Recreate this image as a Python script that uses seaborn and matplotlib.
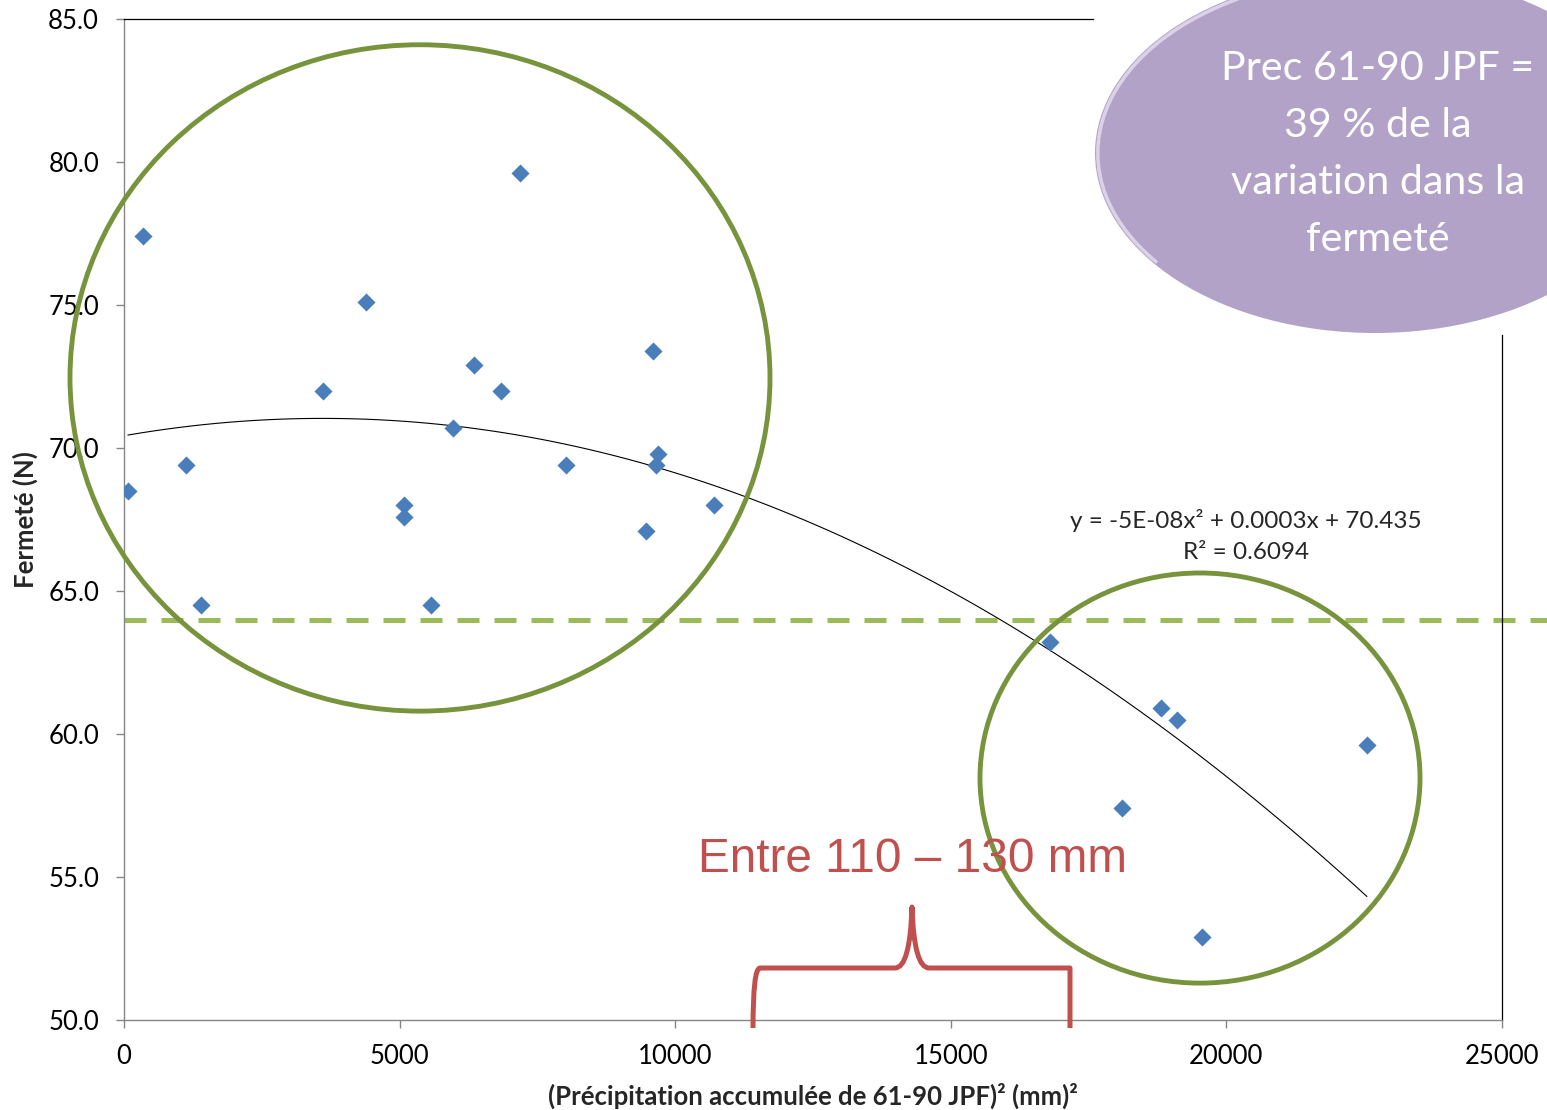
import numpy as np
import pandas as pd
import seaborn as sns
from matplotlib import pyplot as plt
from matplotlib.patches import Ellipse, Arc, PathPatch
from matplotlib.path import Path

# Data
precip_sq = [70, 345, 1125, 1397, 3610, 4390, 5080, 5080, 5570, 5969,
             6350, 6840, 7184, 8019, 9470, 9597, 9688, 9652, 10704,
             16800, 18106, 18813, 19104, 19557, 22550]
fermete = [68.5, 77.4, 69.4, 64.5, 72.0, 75.1, 68.0, 67.6, 64.5, 70.7,
           72.9, 72.0, 79.6, 69.4, 67.1, 73.4, 69.8, 69.4, 68.0,
           63.2, 57.4, 60.9, 60.5, 52.9, 59.6]
seuil = 64.0
x_ticks = [0, 5000, 10000, 15000, 20000, 25000]
y_ticks = [50, 55, 60, 65, 70, 75, 80, 85]

df = pd.DataFrame({"x": precip_sq, "y": fermete})

W, H = 1547, 1110
sns.set_theme(style="white")
plt.rcParams["font.family"] = ["Lato", "DejaVu Sans"]

fig = plt.figure(figsize=(W / 100, H / 100), dpi=100)
ax = fig.add_axes([124 / W, 1 - 1020 / H, (1502 - 124) / W, (1020 - 19) / H])


def fx(px):
    return px / W


def fy(py):
    return 1 - py / H


# threshold line (runs past the right edge of the plot)
ax.plot([0, 26000], [seuil, seuil], color="#9BBB59", lw=3.6,
        dashes=(4.4, 3.0), clip_on=False, zorder=2)

# quadratic trend line
sns.regplot(data=df, x="x", y="y", order=2, ci=None, scatter=False, ax=ax,
            line_kws=dict(color="black", lw=0.8, zorder=3))

sns.scatterplot(data=df, x="x", y="y", marker="D", s=85, color="#4A7EBB",
                linewidth=0, ax=ax, zorder=4)

ax.set_xlim(0, 25000)
ax.set_ylim(50, 85)
ax.set_xticks(x_ticks)
ax.set_yticks(y_ticks)
ax.set_yticklabels([f"{v:.1f}" for v in y_ticks])
ax.tick_params(axis="both", direction="out", length=6, width=1,
               color="#868686", labelsize=18.5, labelcolor="black", pad=11)
ax.tick_params(axis="y", left=True, pad=12)
ax.tick_params(axis="x", bottom=True)

for side in ["left", "bottom"]:
    ax.spines[side].set_color("#868686")
    ax.spines[side].set_linewidth(1)
for side in ["top", "right"]:
    ax.spines[side].set_color("black")
    ax.spines[side].set_linewidth(0.9)
ax.spines["top"].set_bounds(0, 17580)
ax.spines["right"].set_bounds(50, 73.95)

ax.set_xlabel("(Précipitation accumulée de 61-90 JPF)² (mm)²",
              fontsize=18.5, fontweight="bold", labelpad=10)
ax.set_ylabel("Fermeté (N)", fontsize=18.5, fontweight="bold", labelpad=7)

# green circles grouping the points
ax.add_patch(Ellipse((5370, 72.45), 12700, 23.3, fill=False,
                     edgecolor="#77933C", lw=3.5, clip_on=False, zorder=5))
ax.add_patch(Ellipse((19521, 58.46), 7983, 14.34, fill=False,
                     edgecolor="#77933C", lw=3.5, clip_on=False, zorder=5))

# equation of the fit
ax.text(fx(1246), fy(536), "y = -5E-08x² + 0.0003x + 70.435\nR² = 0.6094",
        transform=fig.transFigure, ha="center", va="center",
        fontsize=17.5, linespacing=1.55, zorder=6)

# purple bubble with a soft highlight on its left rim
bubble_c = (fx(1375), fy(153))
bubble_w, bubble_h = 2 * 280 / W, 2 * 180 / H
fig.patches.append(Ellipse(bubble_c, bubble_w, bubble_h,
                           transform=fig.transFigure, facecolor="#B3A2C7",
                           edgecolor="none", zorder=10))
fig.patches.append(Arc(bubble_c, bubble_w * 0.99, bubble_h * 0.985,
                       theta1=110, theta2=215, transform=fig.transFigure,
                       edgecolor="#E6DFF0", lw=2.5, alpha=0.8, zorder=10))
fig.text(fx(1378), fy(154),
         "Prec 61-90 JPF =\n39 % de la\nvariation dans la\nfermeté",
         ha="center", va="center", color="white", fontsize=29.7,
         linespacing=1.66, zorder=11)

# red label and brace
fig.text(fx(913), fy(872), "Entre 110 – 130 mm", ha="center",
         va="baseline", color="#C0504D", fontsize=34.4,
         family=["Liberation Sans", "DejaVu Sans"], zorder=11)

verts = [(753, 1028), (753, 968), (760, 968), (770, 968),
         (895, 968), (910, 968), (912, 907),
         (914, 968), (929, 968), (1055, 968),
         (1064, 968), (1070, 968), (1070, 1028)]
codes = [Path.MOVETO, Path.CURVE3, Path.CURVE3, Path.LINETO,
         Path.LINETO, Path.CURVE3, Path.CURVE3,
         Path.CURVE3, Path.CURVE3, Path.LINETO,
         Path.CURVE3, Path.CURVE3, Path.LINETO]
brace = Path([(fx(a), fy(b)) for a, b in verts], codes)
fig.patches.append(PathPatch(brace, transform=fig.transFigure, fill=False,
                             edgecolor="#C0504D", lw=3.6, zorder=11,
                             capstyle="butt", joinstyle="round"))

fig.savefig("out.png", dpi=100)
